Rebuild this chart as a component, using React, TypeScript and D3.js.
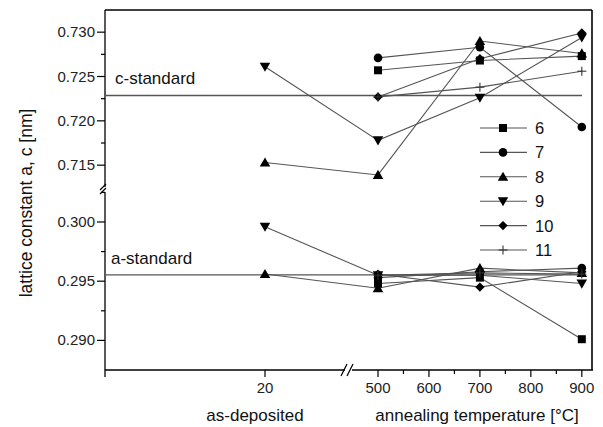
import React from "react";
import * as d3 from "d3";

// x categories: 20 = as-deposited, 500..900 = annealing temperature
const xValues = [20, 500, 700, 900];
const seriesLabels = ["6", "7", "8", "9", "10", "11"];

// c lattice constant (upper panel)
const c6 = [NaN, 0.7257, 0.7268, 0.7273];
const c7 = [NaN, 0.7271, 0.7283, 0.7193];
const c8 = [0.7153, 0.7139, 0.7290, 0.7276];
const c9 = [0.7261, 0.7178, 0.7226, 0.7294];
const c10 = [NaN, 0.7227, 0.7270, 0.7299];
const c11 = [NaN, 0.7227, 0.7238, 0.7256];

// a lattice constant (lower panel)
const a6 = [NaN, 0.2948, 0.2953, 0.2901];
const a7 = [NaN, 0.2953, 0.2958, 0.2961];
const a8 = [0.2956, 0.2944, 0.2961, 0.2957];
const a9 = [0.2996, 0.2955, 0.2955, 0.2948];
const a10 = [NaN, 0.2956, 0.2945, 0.2958];
const a11 = [NaN, 0.2955, 0.2957, 0.2956];

const cStandard = 0.72286;
const aStandard = 0.29553;

const upperMajor = [0.715, 0.72, 0.725, 0.73];
const upperMinor = [0.7175, 0.7225, 0.7275];
const lowerMajor = [0.29, 0.295, 0.3];
const lowerMinor = [0.2925, 0.2975, 0.3025];
const xMajorLeft = [20];
const xMajorRight = [500, 600, 700, 800, 900];
const xMinorRight = [550, 650, 750, 850];

const cSeries = [c6, c7, c8, c9, c10, c11];
const aSeries = [a6, a7, a8, a9, a10, a11];
const shapes = ["square", "circle", "triangle", "down", "diamond", "plus"];

const L = 105, R = 592, T = 10, B = 370, BRK = 190;
const xLeft = d3.scaleLinear().domain([0, 30]).range([L, 345]);
const xRight = d3.scaleLinear().domain([500, 920]).range([378, R]);
const xPos = (v: number) => (v < 100 ? xLeft(v) : xRight(v));
const yUpper = d3.scaleLinear().domain([0.7122, 0.7325]).range([BRK, T]);
const yLower = d3.scaleLinear().domain([0.2875, 0.3027]).range([B, BRK]);
const yPos = (v: number) => (v > 0.5 ? yUpper(v) : yLower(v));
const fmt = d3.format(".3f");

const FONT = "'Liberation Sans', Arial, Helvetica, sans-serif";
const LINE = "#555";

function Marker({ shape, x, y }: { shape: string; x: number; y: number }) {
  if (shape === "plus") {
    return (
      <g transform={`translate(${x},${y})`} stroke="#333" strokeWidth={1.1}>
        <line x1={-4.5} x2={4.5} y1={0} y2={0} />
        <line x1={0} x2={0} y1={-4.5} y2={4.5} />
      </g>
    );
  }
  const typeMap: Record<string, any> = {
    square: d3.symbolSquare,
    circle: d3.symbolCircle,
    triangle: d3.symbolTriangle,
    down: d3.symbolTriangle,
    diamond: d3.symbolDiamond2,
  };
  const sizeMap: Record<string, number> = {
    square: 64,
    circle: 58,
    triangle: 48,
    down: 48,
    diamond: 56,
  };
  const path = d3.symbol().type(typeMap[shape]).size(sizeMap[shape])()!;
  const rot = shape === "down" ? 180 : 0;
  const dy = shape === "triangle" ? 1 : shape === "down" ? -1 : 0;
  return <path d={path} transform={`translate(${x},${y + dy}) rotate(${rot})`} fill="#000" />;
}

function seriesPoints(vals: number[]) {
  return vals
    .map((v, i) => ({ x: xValues[i], v }))
    .filter((p) => !isNaN(p.v))
    .map((p) => [xPos(p.x), yPos(p.v)] as [number, number]);
}

export default function App() {
  const lineGen = d3.line();
  const allSeries = [...cSeries, ...aSeries];
  const allShapes = [...shapes, ...shapes];
  const legendY0 = 128;
  const legendStep = 24.4;
  return (
    <svg width={603} height={427} style={{ position: "absolute", left: 0, top: 0, background: "#fff" }} fontFamily={FONT}>
      {/* frame */}
      <line x1={L} x2={R} y1={T} y2={T} stroke="#000" strokeWidth={1.3} />
      <line x1={R} x2={R} y1={T} y2={B} stroke="#000" strokeWidth={1.6} />
      <line x1={L} x2={L} y1={T} y2={B + 7} stroke="#000" strokeWidth={1.3} />
      <line x1={L} x2={R + 1} y1={B} y2={B} stroke="#000" strokeWidth={1.3} />

      {/* y axis break */}
      <rect x={L - 6} y={BRK - 3} width={12} height={5} fill="#fff" />
      <line x1={L - 5} x2={L + 1} y1={BRK} y2={BRK - 6} stroke="#000" strokeWidth={1.2} />
      <line x1={L - 5} x2={L + 1} y1={BRK + 4} y2={BRK - 2} stroke="#000" strokeWidth={1.2} />

      {/* x axis break */}
      <rect x={345} y={B - 2} width={7} height={4} fill="#fff" />
      <line x1={341} x2={347} y1={B + 6} y2={B - 6} stroke="#000" strokeWidth={1.2} />
      <line x1={347} x2={353} y1={B + 6} y2={B - 6} stroke="#000" strokeWidth={1.2} />

      {/* y ticks */}
      {[...upperMajor.map((v) => yUpper(v)), ...lowerMajor.map((v) => yLower(v))].map((y, i) => (
        <line key={"ym" + i} x1={L - 8} x2={L} y1={y} y2={y} stroke="#000" strokeWidth={1.2} />
      ))}
      {[...upperMinor.map((v) => yUpper(v)), ...lowerMinor.map((v) => yLower(v))].map((y, i) => (
        <line key={"yn" + i} x1={L - 4} x2={L} y1={y} y2={y} stroke="#000" strokeWidth={1.2} />
      ))}
      {upperMajor.map((v) => (
        <text key={"yu" + v} x={L - 10} y={yUpper(v) + 5} fontSize={15} textAnchor="end" fill="#222">
          {fmt(v)}
        </text>
      ))}
      {lowerMajor.map((v) => (
        <text key={"yl" + v} x={L - 10} y={yLower(v) + 5} fontSize={15} textAnchor="end" fill="#222">
          {fmt(v)}
        </text>
      ))}

      {/* x ticks */}
      {[...xMajorLeft.map((v) => xLeft(v)), ...xMajorRight.map((v) => xRight(v))].map((x, i) => (
        <line key={"xm" + i} x1={x} x2={x} y1={B} y2={B + 7} stroke="#000" strokeWidth={1.2} />
      ))}
      {xMinorRight.map((v) => (
        <line key={"xn" + v} x1={xRight(v)} x2={xRight(v)} y1={B} y2={B + 4} stroke="#000" strokeWidth={1.2} />
      ))}
      {xMajorLeft.map((v) => (
        <text key={"xl" + v} x={xLeft(v)} y={B + 23} fontSize={15} textAnchor="middle" fill="#222">
          {v}
        </text>
      ))}
      {xMajorRight.map((v) => (
        <text key={"xr" + v} x={xRight(v)} y={B + 23} fontSize={15} textAnchor="middle" fill="#222">
          {v}
        </text>
      ))}

      {/* axis titles */}
      <text x={255} y={421} fontSize={17} textAnchor="middle" fill="#111">as-deposited</text>
      <text x={477} y={421} fontSize={17} textAnchor="middle" fill="#111">annealing temperature [°C]</text>
      <text transform="translate(32,203) rotate(-90)" fontSize={17.5} textAnchor="middle" fill="#111">
        lattice constant a, c [nm]
      </text>

      {/* standards */}
      <line x1={L} x2={582} y1={yUpper(cStandard)} y2={yUpper(cStandard)} stroke={LINE} strokeWidth={1.3} />
      <line x1={L} x2={582} y1={yLower(aStandard)} y2={yLower(aStandard)} stroke={LINE} strokeWidth={1.3} />
      <text x={115} y={84} fontSize={17} fill="#111">c-standard</text>
      <text x={111} y={264} fontSize={17} fill="#111">a-standard</text>

      {/* series lines */}
      {allSeries.map((s, i) => (
        <path key={"l" + i} d={lineGen(seriesPoints(s))!} fill="none" stroke={LINE} strokeWidth={1.1} />
      ))}
      {/* markers */}
      {allSeries.map((s, i) =>
        seriesPoints(s).map(([x, y], j) => <Marker key={`m${i}-${j}`} shape={allShapes[i]} x={x} y={y} />)
      )}

      {/* legend */}
      {seriesLabels.map((lab, i) => {
        const y = legendY0 + i * legendStep;
        return (
          <g key={"lg" + lab}>
            <line x1={480} x2={527} y1={y} y2={y} stroke={LINE} strokeWidth={1.1} />
            <Marker shape={shapes[i]} x={503} y={y} />
            <text x={535} y={y + 6} fontSize={16.5} fill="#111">{lab}</text>
          </g>
        );
      })}
    </svg>
  );
}
